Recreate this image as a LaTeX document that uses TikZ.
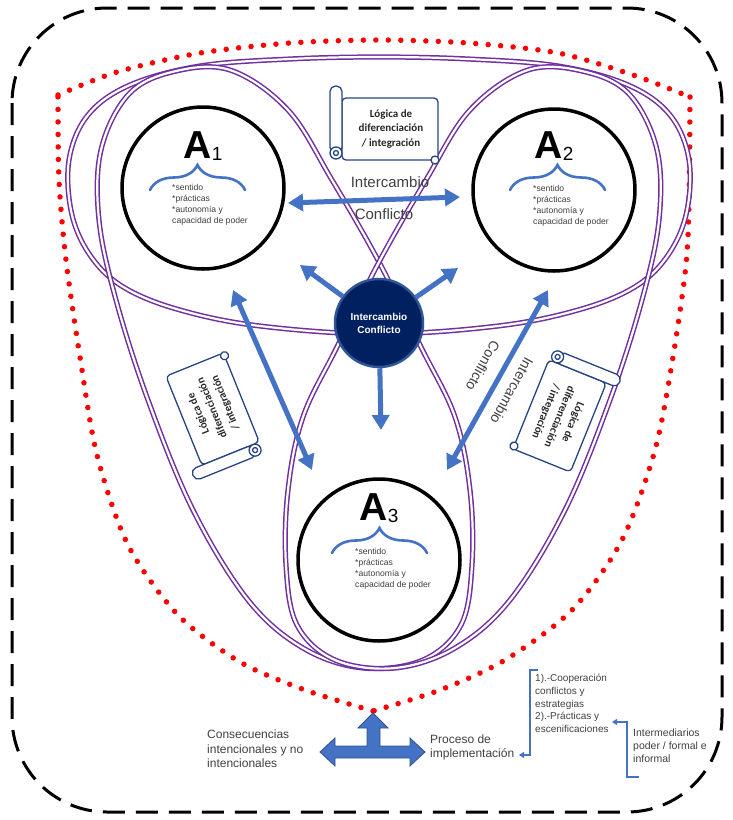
\documentclass[tikz,border=0pt]{standalone}
\usepackage{fontspec}
\setmainfont{Liberation Sans}
\newfontfamily\scrollfont{Carlito}
\usetikzlibrary{arrows.meta,decorations.pathreplacing}
\definecolor{bluearr}{RGB}{68,114,196}
\definecolor{bluedark}{RGB}{47,82,143}
\definecolor{navy}{RGB}{0,32,96}
\definecolor{navyedge}{RGB}{47,85,151}
\definecolor{purp}{RGB}{112,48,160}
\definecolor{scrollc}{RGB}{38,68,130}
\definecolor{txt}{RGB}{64,64,64}
\definecolor{dotred}{RGB}{255,0,0}
\tikzset{
  outerframe/.style={draw=black, line width=3pt, dash pattern=on 22pt off 11pt, rounded corners=95pt},
  reddots/.style={draw=dotred, line width=5.5pt, line cap=round, dash pattern=on 0pt off 12.5pt},
  loopline/.style={draw=purp, line width=1.5pt, double=white, double distance=2.2pt},
  actor/.style={circle, draw=black, line width=3.5pt, fill=white, minimum size=162pt, inner sep=0pt},
  hub/.style={circle, draw=navyedge, line width=2.5pt, fill=navy, minimum size=88pt, inner sep=0pt, text=white, font=\fontsize{10}{13}\selectfont\bfseries, align=center},
  bigarrow/.style={draw=bluearr, line width=5pt, -{Triangle[length=15pt,width=17pt]}},
  bigdouble/.style={draw=bluearr, line width=5pt, {Triangle[length=15pt,width=17pt]}-{Triangle[length=15pt,width=17pt]}},
  bluebrace/.style={draw=bluearr, line width=2.6pt, line cap=round, decorate, decoration={brace, amplitude=25pt, aspect=0.5}},
  alabel/.style={anchor=base, inner sep=0pt},
  traits/.style={anchor=north west, inner sep=0pt, align=left, text=txt, font=\fontsize{8.6}{10.9}\selectfont},
  arrowlabel/.style={inner sep=0pt, text=txt, font=\fontsize{15}{18}\selectfont},
  scrollline/.style={draw=scrollc, line width=1.3pt},
  scrolltext/.style={inner sep=0pt, align=center, text=black!85, font=\scrollfont\fontsize{11}{14.5}\selectfont\bfseries},
  bottomtext/.style={anchor=north west, inner sep=0pt, align=left, text=txt},
  bracket/.style={draw=bluearr, line width=1.3pt, -{Triangle[length=5pt,width=6pt]}},
  scrollpic/.pic={
    \draw[scrollline,fill=white,rounded corners=4pt] (-47,-31) -- (49,-31) -- (49,31) -- (-47,31) -- cycle;
    \draw[scrollline,fill=white,rounded corners=5.5pt] (-47,24) -- (-59,24) -- (-59,-43) -- (-47,-43) -- cycle;
    \draw[scrollline,fill=white] (-53,24) circle[radius=6];
    \draw[scrollline] (-53,24) circle[radius=2.5];
    \draw[scrollline,fill=white] (46,31) circle[radius=4];
    \node[scrolltext,transform shape] (-text) at (2,0) {Lógica de\\diferenciación\\/ integración};
  }
}
\begin{document}
\begin{tikzpicture}[x=1pt,y=-1pt]
\useasboundingbox (0,0) rectangle (733,820);
% outer dashed frame
\draw[outerframe] (12,8) rectangle (722,812);
% red dotted shield
\draw[reddots] plot[smooth] coordinates {(58,95) (117,72) (200,53) (290,43) (379,40) (468,43) (558,53) (633,75) (690,97)};
\draw[reddots] plot[smooth] coordinates {(690,97) (689,200) (686,265) (673,357) (655,450) (622,540) (572,610) (505,660) (440,690) (373,711)};
\draw[reddots] plot[smooth] coordinates {(373,711) (305,690) (240,662) (178,615) (128,545) (97,455) (80,357) (66,260) (59,180) (58,95)};
% purple loops
\draw[loopline] plot[smooth cycle, tension=0.6] coordinates {(379,57) (468,59) (558,66) (628,85) (670,115) (689,160) (686,215) (666,258) (633,288) (578,310) (498,326) (379,334) (260,326) (180,310) (125,288) (92,258) (72,215) (69,160) (88,115) (130,85) (200,66) (290,59)};
\draw[loopline] plot[smooth cycle, tension=0.6] coordinates {(230,70) (288,110) (332,180) (379,262) (421,347) (455,417) (470,490) (472,565) (461,625) (423,660) (363,668) (303,648) (248,600) (193,510) (148,400) (116,300) (99,220) (101,150) (128,95) (172,72)};
\draw[loopline] plot[smooth cycle, tension=0.6] coordinates {(528,70) (470,110) (426,180) (379,262) (337,347) (303,417) (288,490) (286,565) (297,625) (335,660) (395,668) (455,648) (510,600) (565,510) (610,400) (642,300) (659,220) (657,150) (630,95) (586,72)};
% actors
\node[actor] (a1) at (203,188) {};
\node[actor] (a2) at (554,190) {};
\node[actor] (a3) at (379,560) {};
% labels inside actors
\node[alabel] (a1lab) at (203,158) {\fontsize{39}{39}\selectfont\bfseries A\raisebox{-2pt}{\fontsize{19}{19}\selectfont\mdseries 1}};
\node[alabel] (a2lab) at (554,158) {\fontsize{39}{39}\selectfont\bfseries A\raisebox{-2pt}{\fontsize{19}{19}\selectfont\mdseries 2}};
\node[alabel] (a3lab) at (379,520) {\fontsize{39}{39}\selectfont\bfseries A\raisebox{-2pt}{\fontsize{19}{19}\selectfont\mdseries 3}};
\draw[bluebrace] (150,190) -- (245,190);
\draw[bluebrace] (510,190) -- (605,190);
\draw[bluebrace] (332,553) -- (427,553);
\node[traits] (a1t) at (172,184) {*sentido\\*prácticas\\*autonomía y\\capacidad de poder};
\node[traits] (a2t) at (533,185) {*sentido\\*prácticas\\*autonomía y\\capacidad de poder};
\node[traits] (a3t) at (355,548) {*sentido\\*prácticas\\*autonomía y\\capacidad de poder};
% hub
\node[hub] (hub) at (379,323) {Intercambio\\Conflicto};
% arrows
\coordinate (cul) at (300,265);
\coordinate (cur) at (458,268);
\coordinate (cdn) at (381,430);
\draw[bigarrow] (hub) -- (cul);
\draw[bigarrow] (hub) -- (cur);
\draw[bigarrow] (hub) -- (cdn);
\coordinate (tl) at (288,203); \coordinate (tr) at (460,197);
\coordinate (ll1) at (233,290); \coordinate (ll2) at (312,470);
\coordinate (rr1) at (548,290); \coordinate (rr2) at (447,470);
\draw[bigdouble] (tl) -- (tr);
\draw[bigdouble] (ll1) -- (ll2);
\draw[bigdouble] (rr1) -- (rr2);
\node[arrowlabel] (interT) at (390,182) {Intercambio};
\node[arrowlabel] (confT) at (384,214) {Conflicto};
\node[arrowlabel, rotate=-119, font=\fontsize{14}{17}\selectfont] (confR) at (483,366) {Conflicto};
\node[arrowlabel, rotate=-119, font=\fontsize{14}{17}\selectfont] (interR) at (512,391) {Intercambio};
% scrolls
\pic (s1) at (389,129) {scrollpic};
\pic[rotate=112] (s2) at (213,410) {scrollpic};
\pic[rotate=-112] (s3) at (560,415) {scrollpic};
% bottom block arrow
\draw[fill=bluearr, draw=bluedark, line width=0.8pt] (373,713) -- (388,728) -- (380,728) -- (380,746) -- (410,746) -- (410,738) -- (425,752) -- (410,766) -- (410,758) -- (335,758) -- (335,766) -- (320,752) -- (335,738) -- (335,746) -- (367,746) -- (367,728) -- (358,728) -- cycle;
% bottom texts
\node[bottomtext, font=\fontsize{12}{14.5}\selectfont] (cons) at (207,730) {Consecuencias\\intencionales y no\\intencionales};
\node[bottomtext, font=\fontsize{12}{14}\selectfont] (proc) at (430,735) {Proceso de\\implementación};
\node[bottomtext, font=\fontsize{10}{12.8}\selectfont] (coop) at (535,674) {1).-Cooperación\\conflictos y\\estrategias\\2).-Prácticas y\\escenificaciones};
\node[bottomtext, font=\fontsize{10.5}{13}\selectfont] (inter) at (633,729) {Intermediarios\\poder / formal e\\informal};
% brackets
\coordinate (b1s) at (538,670); \coordinate (b1k) at (530,670); \coordinate (b1e) at (519,755);
\draw[bracket] (b1s) -- (b1k) |- (b1e);
\coordinate (b2s) at (639,777); \coordinate (b2k) at (627,777); \coordinate (b2e) at (612,722);
\draw[bracket] (b2s) -- (b2k) |- (b2e);
\end{tikzpicture}
\end{document}
